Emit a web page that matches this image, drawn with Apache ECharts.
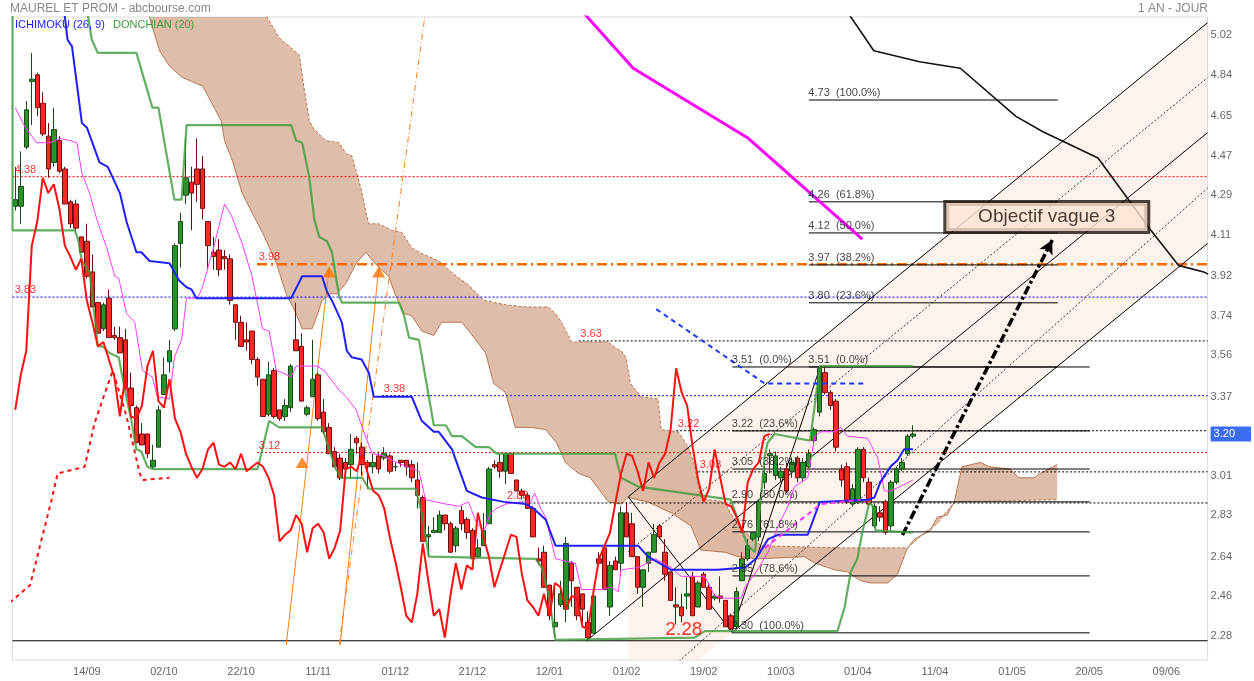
<!DOCTYPE html>
<html><head><meta charset="utf-8">
<script src="https://cdn.jsdelivr.net/npm/echarts@6/dist/echarts.min.js"></script>
<style>html,body{margin:0;padding:0;background:#fff}#c{width:1254px;height:681px}</style>
</head><body><div id="c"></div>
<script>
// ---------- DATA ----------
const N = 217; // daily slots incl. projection zone
const xTickIdx = [13,27,41,55,69,83,97,111,125,139,153,167,181,195,209];
const xTickLabels = ['14/09','02/10','22/10','11/11','01/12','21/12','12/01','01/02','19/02','10/03','01/04','11/04','01/05','20/05','09/06'];
const yTicks = [2.28,2.46,2.64,2.83,3.01,3.20,3.37,3.56,3.74,3.92,4.11,4.29,4.47,4.65,4.84,5.02];
const lastPrice = 3.20;

// [open, close, low, high]
const candles = [
[4.24,4.27,4.22,4.42],[4.24,4.33,4.16,4.49],[4.51,4.68,4.50,4.72],[4.81,4.82,4.61,4.94],[4.84,4.69,4.65,4.85],
[4.71,4.57,4.56,4.76],[4.56,4.41,4.37,4.62],[4.44,4.59,4.42,4.69],[4.54,4.40,4.39,4.56],[4.41,4.25,4.25,4.42],
[4.26,4.16,4.14,4.27],[4.25,4.14,4.13,4.27],[4.10,4.03,4.03,4.10],[4.08,3.92,3.91,4.16],[3.94,3.78,3.78,4.02],
[3.80,3.66,3.66,3.80],[3.68,3.79,3.67,3.80],[3.82,3.64,3.64,3.86],[3.65,3.64,3.63,3.69],[3.64,3.57,3.57,3.69],
[3.63,3.41,3.40,3.68],[3.41,3.33,3.32,3.48],[3.32,3.16,3.16,3.33],[3.20,3.15,3.15,3.25],[3.20,3.11,3.09,3.20],
[3.05,3.08,3.04,3.15],[3.14,3.31,3.14,3.33],[3.38,3.47,3.38,3.55],[3.53,3.58,3.48,3.63],[3.68,4.06,3.67,4.07],
[4.07,4.17,3.96,4.21],[4.29,4.37,4.25,4.55],[4.35,4.30,4.13,4.42],[4.41,4.34,4.26,4.55],[4.41,4.23,4.18,4.47],
[4.17,4.06,3.95,4.17],[4.03,4.01,3.95,4.10],[4.04,3.95,3.92,4.09],[4.01,4.00,3.95,4.04],[4.00,3.81,3.79,4.02],
[3.79,3.71,3.63,3.79],[3.71,3.60,3.60,3.74],[3.63,3.62,3.58,3.71],[3.67,3.54,3.52,3.67],[3.54,3.46,3.42,3.55],
[3.45,3.28,3.28,3.45],[3.29,3.47,3.28,3.53],[3.49,3.28,3.27,3.50],[3.31,3.27,3.26,3.31],[3.28,3.33,3.26,3.36],
[3.32,3.51,3.30,3.52],[3.63,3.58,3.58,3.80],[3.60,3.35,3.35,3.66],[3.29,3.32,3.28,3.33],[3.37,3.45,3.37,3.63],
[3.47,3.27,3.26,3.48],[3.30,3.21,3.20,3.36],[3.23,3.11,3.11,3.25],[3.12,3.05,3.05,3.14],[3.09,3.00,2.99,3.11],
[3.07,3.04,3.00,3.09],[3.06,3.13,3.00,3.20],[3.18,3.16,3.11,3.19],[3.14,3.06,3.01,3.16],[3.07,3.05,2.95,3.08],
[3.05,3.07,3.02,3.11],[3.10,3.04,3.02,3.12],[3.09,3.11,3.08,3.14],[3.10,3.03,3.02,3.11],[3.05,3.05,3.03,3.07],
[3.08,3.07,3.05,3.08],[3.08,3.05,3.01,3.08],[3.06,3.00,2.98,3.08],[2.99,2.92,2.86,3.07],[2.91,2.71,2.71,2.92],
[2.73,2.74,2.64,2.78],[2.75,2.76,2.75,2.82],[2.75,2.83,2.75,2.85],[2.83,2.79,2.76,2.83],[2.79,2.66,2.66,2.80],
[2.69,2.77,2.66,2.78],[2.85,2.79,2.76,2.87],[2.81,2.75,2.72,2.82],[2.76,2.63,2.63,2.77],[2.64,2.68,2.63,2.72],
[2.69,2.76,2.69,2.84],[2.79,3.04,2.79,3.05],[3.06,3.05,3.04,3.08],[3.07,3.03,3.00,3.11],[3.03,3.11,2.97,3.11],
[3.11,3.02,3.02,3.11],[2.99,2.94,2.94,2.99],[2.94,2.92,2.90,2.95],[2.92,2.86,2.86,2.93],[2.86,2.73,2.73,2.87],
[2.63,2.62,2.60,2.68],[2.66,2.50,2.50,2.69],[2.51,2.37,2.35,2.51],[2.32,2.34,2.27,2.50],[2.42,2.47,2.41,2.53],
[2.40,2.70,2.34,2.73],[2.61,2.53,2.41,2.62],[2.50,2.37,2.35,2.50],[2.47,2.40,2.33,2.47],[2.34,2.27,2.26,2.39],
[2.29,2.46,2.29,2.46],[2.63,2.61,2.61,2.66],[2.68,2.49,2.49,2.68],[2.41,2.60,2.37,2.62],[2.62,2.58,2.58,2.64],
[2.61,2.84,2.55,2.87],[2.84,2.73,2.73,2.89],[2.79,2.64,2.64,2.84],[2.64,2.50,2.47,2.64],[2.50,2.58,2.41,2.58],
[2.61,2.66,2.57,2.66],[2.66,2.74,2.66,2.79],[2.78,2.73,2.72,2.79],[2.66,2.56,2.53,2.72],[2.57,2.44,2.44,2.57],
[2.42,2.41,2.33,2.50],[2.41,2.37,2.34,2.47],[2.46,2.47,2.40,2.55],[2.55,2.37,2.37,2.57],[2.41,2.52,2.41,2.53],
[2.56,2.50,2.50,2.57],[2.50,2.40,2.40,2.52],[2.45,2.46,2.44,2.47],[2.46,2.45,2.43,2.55],[2.44,2.32,2.32,2.44],
[2.37,2.31,2.30,2.38],[2.32,2.48,2.31,2.50],[2.53,2.63,2.53,2.66],[2.63,2.69,2.62,2.72],[2.72,2.75,2.71,2.75],
[2.73,2.89,2.71,2.90],[2.98,3.02,2.95,3.05],[3.10,3.11,3.02,3.13],[3.01,3.10,2.99,3.12],[3.00,3.03,2.98,3.05],
[3.04,2.94,2.93,3.07],[3.03,3.07,3.00,3.09],[3.09,3.00,2.98,3.10],[3.00,3.07,2.98,3.09],[3.05,3.11,3.04,3.13],
[3.17,3.22,3.15,3.23],[3.30,3.50,3.28,3.51],[3.48,3.39,3.38,3.51],[3.39,3.33,3.31,3.40],[3.35,3.14,3.12,3.36],
[3.04,2.99,2.96,3.06],[3.05,2.89,2.88,3.07],[2.88,2.95,2.87,2.97],[2.89,3.13,2.88,3.14],[3.13,3.00,2.98,3.14],
[2.98,2.88,2.87,3.00],[2.78,2.87,2.77,2.88],[2.84,2.82,2.80,2.87],[2.89,2.75,2.74,2.90],[2.78,2.98,2.76,2.99],
[2.98,3.04,2.97,3.05],[3.04,3.07,3.03,3.09],[3.11,3.19,3.10,3.20],[3.19,3.20,3.18,3.24]
];
const chikouLag = 26;

// Ichimoku lines, [day index, price]
const tenkan = [[0,4.69],[1.8,4.60],[3.9,4.53],[6.3,4.53],[8.1,4.55],[9.9,4.54],[11.2,4.53],[12.1,4.39],[13.5,4.30],[14.8,4.18],[16.6,4.05],[18.1,3.92],[18.8,3.91],[20.2,3.75],[21.7,3.71],[23.1,3.49],[24.9,3.46],[25.8,3.37],[28.0,3.36],[28.9,3.55],[30.2,3.63],[31.1,3.82],[33.1,3.82],[34.0,3.87],[35.3,3.99],[35.8,4.03],[38.0,4.25],[39.2,4.20],[41.2,4.07],[43.0,3.92],[44.9,3.68],[46.1,3.67],[47.4,3.49],[48.5,3.48],[50.1,3.46],[51.0,3.51],[54.8,3.51],[56.1,3.49],[58.8,3.40],[60.1,3.37],[61.9,3.31],[63.0,3.23],[64.8,3.11],[66.9,3.10],[68.4,3.08],[71.1,3.05],[73.3,3.03],[74.5,2.90],[76.4,2.89],[78.2,2.88],[80.5,2.87],[82.3,2.89],[83.8,2.79],[85.2,2.76],[86.3,2.84],[87.4,2.86],[89.0,2.88],[91.9,2.89],[93.6,2.89],[94.3,2.93],[95.4,2.86],[96.3,2.82],[98.1,2.63],[101.7,2.61],[102.8,2.49],[106.4,2.49],[108.2,2.50],[109.5,2.48],[110.0,2.58],[113.1,2.59],[116.2,2.63],[119.1,2.59],[120.9,2.55],[125.2,2.55],[127.0,2.46],[128.9,2.45],[131.8,2.45],[132.5,2.50],[134.5,2.57],[136.7,2.66],[138.5,2.78],[140.3,2.87],[141.5,2.96],[143.9,3.00],[145.2,3.19],[146.3,3.21],[148.8,3.21],[149.9,3.23],[151.1,3.19],[154.8,3.18],[156.6,3.09],[157.8,2.94],[158.9,2.94],[160.7,2.96],[163.0,2.99]];
const kijun = [[8.1,5.3],[9.5,5.00],[10.3,4.97],[12.1,4.62],[13.0,4.60],[15.3,4.44],[16.8,4.42],[19.0,4.30],[20.2,4.17],[22.0,4.03],[22.9,4.03],[24.4,3.99],[28.0,3.98],[29.8,3.90],[31.1,3.87],[32.0,3.86],[32.9,3.82],[50.1,3.82],[52.1,3.92],[55.7,3.92],[56.6,3.85],[57.5,3.81],[59.3,3.71],[60.2,3.58],[61.1,3.55],[62.9,3.54],[64.2,3.48],[65.1,3.37],[72.0,3.37],[73.8,3.26],[76.0,3.21],[76.9,3.21],[79.3,3.13],[82.0,2.94],[84.7,2.91],[88.7,2.89],[92.7,2.88],[94.1,2.86],[96.3,2.81],[98.1,2.69],[113.1,2.69],[114.9,2.64],[119.1,2.58],[127.6,2.58],[132.5,2.59],[134.5,2.63],[136.7,2.72],[138.5,2.74],[143.9,2.74],[146.1,2.89],[154.8,2.90],[156.0,2.91],[157.1,2.98],[158.9,3.05],[160.2,3.08],[161.4,3.13],[163.0,3.13]];
// cloud edges (already shifted 26 days ahead)
const kumoEdgeA = [[23.5,5.25],[24.4,5.10],[26.2,4.95],[28.0,4.88],[30.2,4.83],[32.9,4.80],[34.0,4.79],[37.4,4.63],[38.0,4.54],[39.4,4.45],[41.2,4.30],[43.0,4.21],[44.9,4.12],[47.4,3.98],[49.2,3.84],[51.0,3.75],[52.1,3.68],[53.9,3.68],[54.8,3.74],[55.7,3.81],[57.3,3.84],[58.4,3.84],[60.1,3.89],[61.9,3.98],[63.7,4.03],[64.6,4.00],[66.0,3.96],[67.8,3.92],[69.1,3.83],[70.6,3.75],[72.0,3.74],[73.8,3.67],[76.0,3.65],[77.4,3.71],[81.1,3.71],[82.7,3.66],[85.4,3.57],[86.9,3.43],[89.0,3.39],[90.8,3.23],[93.7,3.23],[96.3,3.22],[98.3,3.16],[99.9,3.07],[102.3,3.02],[104.4,3.00],[105.9,2.95],[107.7,2.89],[110.0,2.88],[111.3,2.91],[113.1,2.90],[114.9,2.89],[119.1,2.84],[122.7,2.78],[124.5,2.67],[128.9,2.66],[131.2,2.64],[134.8,2.63],[143.3,2.64],[145.2,2.61],[148.8,2.58],[151.1,2.57],[153.5,2.53],[155.3,2.52],[158.4,2.52],[160.2,2.56],[162.0,2.68],[163.3,2.72],[166.2,2.76],[167.4,2.82],[169.2,2.83],[170.5,2.89],[171.9,3.05],[175.2,3.07],[177.0,3.05],[180.6,3.04],[182.2,3.00],[185.0,3.00],[186.1,3.02],[189.2,3.06]];
const kumoEdgeB = [[23.5,5.40],[44.0,5.25],[45.8,5.10],[47.9,5.01],[51.6,4.93],[52.5,4.77],[53.4,4.63],[54.3,4.59],[56.4,4.54],[58.8,4.53],[60.1,4.48],[61.1,4.47],[62.9,4.31],[63.7,4.21],[64.2,4.16],[66.0,4.16],[68.4,4.13],[70.2,4.12],[72.0,4.05],[73.3,4.03],[76.9,3.99],[79.6,3.93],[82.3,3.88],[85.1,3.81],[89.0,3.79],[92.7,3.78],[96.8,3.78],[98.1,3.75],[99.2,3.71],[101.0,3.62],[107.7,3.62],[109.1,3.59],[110.0,3.58],[110.9,3.55],[111.7,3.43],[113.7,3.37],[116.7,3.36],[117.3,3.22],[120.4,3.21],[122.2,3.14],[123.4,3.05],[124.5,2.91],[125.8,2.90],[128.9,2.89],[129.8,2.84],[131.2,2.79],[132.1,2.76],[133.6,2.73],[135.4,2.69],[149.3,2.68],[162.0,2.68],[164.7,2.74],[167.4,2.79],[169.2,2.85],[170.7,2.89],[189.2,2.90]];
// Donchian (20)
const donchianHigh = [[12.3,5.25],[13.9,5.00],[15.0,4.94],[22.0,4.94],[24.9,4.69],[26.0,4.69],[28.9,4.27],[30.2,4.27],[31.1,4.61],[50.1,4.61],[51.0,4.54],[52.1,4.53],[53.4,4.37],[54.3,4.18],[55.2,4.10],[56.6,4.08],[57.5,4.03],[58.8,3.83],[59.3,3.80],[69.7,3.80],[70.6,3.74],[71.5,3.64],[73.3,3.63],[76.0,3.24],[78.2,3.24],[79.3,3.19],[81.1,3.19],[83.6,3.14],[86.0,3.14],[87.4,3.11],[108.9,3.11],[110.0,3.00],[113.1,2.96],[129.9,2.90],[131.2,2.81],[133.0,2.69],[134.3,2.66],[135.4,2.91],[136.1,3.10],[136.6,3.16],[137.9,3.20],[144.3,3.17],[144.8,3.26],[146.1,3.51],[163.0,3.51]];
const donchianLow = [[-0.5,5.3],[-0.5,4.13],[10.8,4.13],[11.4,4.09],[12.1,3.99],[13.5,3.94],[15.0,3.60],[15.9,3.60],[17.1,3.57],[18.8,3.55],[19.9,3.40],[21.1,3.26],[22.0,3.13],[22.9,3.12],[24.0,3.05],[24.9,3.04],[44.0,3.04],[46.1,3.26],[47.9,3.23],[55.7,3.23],[57.0,3.13],[58.2,3.04],[59.2,3.00],[63.0,3.00],[64.2,2.95],[72.7,2.95],[73.8,2.84],[75.1,2.64],[94.5,2.63],[95.6,2.59],[96.8,2.47],[98.1,2.26],[123.4,2.27],[125.2,2.30],[149.3,2.30],[150.6,2.41],[151.7,2.57],[152.9,2.63],[153.8,2.75],[155.1,2.89],[155.7,2.87],[156.2,2.76],[163.0,2.75]];
// other drawn indicators
const redDotted = [[-1.0,2.43],[2.7,2.51],[6.6,2.90],[7.7,3.02],[12.6,3.05],[14.4,3.25],[17.7,3.49],[19.5,3.34],[20.2,3.28],[22.6,3.02],[23.1,2.99],[28.0,3.00]];
const blueDashed = [[116.4,3.77],[136.1,3.43],[154.2,3.43]];
const magentaDashed = [[136.1,2.68],[146.3,2.88],[153.5,2.90]];
const magentaLine = [[102.6,5.14],[112.2,4.87],[133.1,4.55],[153.8,4.09]];
const blackLine = [[150.2,5.16],[155.9,4.95],[164.2,4.90],[171.6,4.87],[181.7,4.65],[186.6,4.58],[196.6,4.46],[206.2,4.13],[211.2,3.97],[215.8,3.94],[216.6,3.93]];

// horizontal reference levels
const refLevels = [4.375, 3.825, 3.975, 3.625, 3.375, 3.115, 2.885, 3.215, 3.027, 2.256];
const refLabels = ['4.38','3.83','3.98','3.63','3.38','3.12','2.88','3.22','3.03',''];
const refStart  = [-0.5, -0.5, 43.9, 102.3, 66.6, 43.9, 89.0, 120.0, 124.0, -0.5];
// Fibonacci retracements
const fibLowLevels = [3.506, 3.214, 3.04, 2.89, 2.753, 2.552, 2.292];
const fibLowLabels = ['3.51  (0.0%)','3.22  (23.6%)','3.05  (38.2%)','2.90  (50.0%)','2.76  (61.8%)','2.55  (78.6%)','2.30  (100.0%)'];
const fibLowRange = [130.2, 195.1];
const fibHighLevels = [4.725, 4.26, 4.118, 3.972, 3.799, 3.506];
const fibHighLabels = ['4.73  (100.0%)','4.26  (61.8%)','4.12  (50.0%)','3.97  (38.2%)','3.80  (23.6%)','3.51  (0.0%)'];
const fibHighRange = [144.1, 189.3];
// channel lines [start, end]
const channelSolid = [[[111.3,2.913],[216.5,5.078]], [[103.7,2.255],[216.5,4.576]], [[130.1,2.292],[216.5,4.070]]];
const channelDotted = [[[111.3,2.662],[216.5,4.827]], [[120.0,2.150],[216.5,4.323]]];
const channelFill = [[111.3,2.913],[216.5,5.078],[216.5,4.070],[111.3,1.905]];
const trendLines = [[[111.3,2.913],[130.1,2.295]], [[130.1,2.295],[146.2,3.51]]];
const orangeSolid = [[[49.2,2.237],[57.0,3.958]], [[59.0,2.237],[66.0,3.958]]];
const orangeDashDot = [[[58.8,2.237],[74.5,5.13]]];
const orangeMarks = [[52.1,3.07],[57.0,3.94],[66.0,3.94]];
const arrowWave = [[161.1,2.739],[188.3,4.086]];
const targetBox = {pos:[187.3,4.191], text:'Objectif vague 3'};
const lowLabel = {pos:[121.4,2.305], text:'2.28'};

// ---------- CHART ----------
const FONT = '"Liberation Sans", Arial, Helvetica, sans-serif';
const chart = echarts.init(document.getElementById('c'));
const cats = Array.from({length:N}, (_, i) => String(i));
const tickMap = {}; xTickIdx.forEach((k, j) => tickMap[k] = xTickLabels[j]);
const chikou = candles.slice(chikouLag).map((c, i) => [i, c[1]]);

function L(pts, color, width, type, z, extra) {
  return Object.assign({type:'line', xAxisIndex:1, yAxisIndex:0, data:pts, showSymbol:false, symbol:'none',
    silent:true, z:z, animation:false, lineStyle:{color:color, width:width, type:type||'solid'}}, extra||{});
}
function poly(pts, style, z) {
  return {type:'custom', xAxisIndex:1, yAxisIndex:0, z:z, silent:true, clip:true, data:[[0,3]],
    renderItem:(p, api) => ({type:'polygon', shape:{points:pts.map(q => api.coord(q))}, style:style})};
}
const series = [];
series.push(poly(channelFill, {fill:'rgba(250,218,196,0.33)'}, 1));
series.push(poly(kumoEdgeA.concat(kumoEdgeB.slice().reverse()), {fill:'rgba(190,125,88,0.5)'}, 2));
series.push(L(kumoEdgeA, '#b8764f', 1, 'solid', 3));
series.push(L(kumoEdgeB, '#b8764f', 1, [3,2], 3));
// reference lines
const refStyles = [['#ff0000',1,[2,2]],['#0000ff',1,[2,2]],['#ff6a00',2.5,[10,4,2,4]],['#000',1,[2,2]],['#0000ff',1,[2,2]],['#ff0000',1,[2,2]],['#000',1,[2,2]],['#000',1,[2,2]],['#000',1,[2,2]],['#000',1.2,'solid']];
refLevels.forEach((v, k) => series.push(L([[refStart[k], v],[216.5, v]], refStyles[k][0], refStyles[k][1], refStyles[k][2], 4)));
fibLowLevels.forEach(v => series.push(L([[fibLowRange[0], v],[fibLowRange[1], v]], '#000', 1, 'solid', 4)));
fibHighLevels.forEach(v => series.push(L([[fibHighRange[0], v],[fibHighRange[1], v]], '#000', 1, 'solid', 4)));
channelSolid.forEach(s => series.push(L(s, '#000', 1, 'solid', 5)));
channelDotted.forEach(s => series.push(L(s, '#333', 1, [2,2], 5)));
trendLines.forEach(s => series.push(L(s, '#000', 1, 'solid', 5)));
orangeSolid.forEach(s => series.push(L(s, '#ff7f1a', 1, 'solid', 5)));
orangeDashDot.forEach(s => series.push(L(s, '#ff7f1a', 1, [6,3,1,3], 5)));
// candles
series.push({type:'candlestick', xAxisIndex:0, yAxisIndex:0, data:candles, z:6, barWidth:5, silent:true,
  itemStyle:{color:'#2a922a', color0:'#ff2626', borderColor:'#1a4a1a', borderColor0:'#6e0f0f', borderWidth:1}});
// indicators
series.push(L(donchianHigh, 'rgba(60,155,60,0.8)', 2.2, 'solid', 7));
series.push(L(donchianLow, 'rgba(60,155,60,0.8)', 2.2, 'solid', 7));
series.push(L(tenkan, '#ff3cff', 1, 'solid', 8));
series.push(L(kijun, '#2020ff', 2, 'solid', 8));
series.push(L(chikou, '#ff1010', 2, 'solid', 8));
series.push(L(redDotted, '#ff1010', 2, [4,4], 8));
series.push(L(blueDashed, '#1a3cff', 2, [5,4], 8));
series.push(L(magentaDashed, '#ff33ff', 2, [5,4], 8));
series.push(L(magentaLine, '#ff00ff', 3, 'solid', 8));
series.push(L(blackLine, '#111', 1.6, 'solid', 8));
series.push(L([], '#000', 1, 'solid', 9, {markLine:{silent:true, symbol:['none','arrow'], symbolSize:[11,14], animation:false,
  label:{show:false}, lineStyle:{color:'#000', width:3.5, type:[9,3,3,3]},
  data:[[{coord:arrowWave[0]},{coord:arrowWave[1]}]]}}));
// texts & markers
const txt = [];
refLevels.forEach((v, k) => { if (refLabels[k]) txt.push({value:[refStart[k] < 0 ? 0 : refStart[k] + 0.4, v],
  label:{formatter:refLabels[k], color:'#ff0000', fontSize:11}}); });
fibLowLevels.forEach((v, k) => txt.push({value:[fibLowRange[0], v], label:{formatter:fibLowLabels[k], color:'#111', fontSize:11}}));
fibHighLevels.forEach((v, k) => txt.push({value:[fibHighRange[0], v], label:{formatter:fibHighLabels[k], color:'#111', fontSize:11}}));
series.push({type:'scatter', xAxisIndex:1, yAxisIndex:0, z:10, silent:true, symbolSize:1, itemStyle:{color:'rgba(0,0,0,0)'},
  label:{show:true, position:[0,0], align:'left', verticalAlign:'bottom', offset:[0,-1], fontFamily:FONT}, data:txt});
series.push({type:'scatter', xAxisIndex:1, yAxisIndex:0, z:11, silent:true, symbolSize:1, itemStyle:{color:'rgba(0,0,0,0)'},
  data:[{value:lowLabel.pos, label:{show:true, position:'inside', formatter:lowLabel.text, color:'#ff0000', fontSize:19, fontFamily:FONT}},
        {value:targetBox.pos, label:{show:true, position:'inside', formatter:targetBox.text, color:'#111', fontSize:19, fontFamily:FONT,
          backgroundColor:'#fde2cf', borderColor:'#1e120a', borderWidth:3, width:201, height:28, lineHeight:28, align:'center', verticalAlign:'middle'}}]});
series.push({type:'scatter', xAxisIndex:1, yAxisIndex:0, z:11, silent:true, symbol:'triangle', symbolSize:[13,11],
  itemStyle:{color:'#ff7300'}, data:orangeMarks});

chart.setOption({
  animation:false,
  backgroundColor:'#fff',
  textStyle:{fontFamily:FONT},
  grid:{left:12.5, right:43, top:17, bottom:21, show:true, borderColor:'#dcdcdc', borderWidth:1, backgroundColor:'#fff'},
  xAxis:[
    {type:'category', data:cats, boundaryGap:true, axisLine:{show:false}, axisTick:{show:false}, splitLine:{show:false},
      axisLabel:{interval:(i) => tickMap[i] !== undefined, formatter:(v, i) => tickMap[i] || '', color:'#666', fontSize:11, margin:6}},
    {type:'value', min:-0.5, max:N-0.5, show:false}
  ],
  yAxis:[{type:'value', position:'right', min:2.168, max:5.104, splitLine:{show:false}, axisLine:{show:false}, axisTick:{show:false},
    axisLabel:{customValues:yTicks, color:'#666', fontSize:11, margin:3,
      formatter:(v) => Math.abs(v - lastPrice) < 1e-6 ? '{hl|' + v.toFixed(2) + '}' : v.toFixed(2),
      rich:{hl:{backgroundColor:'#3a6cf4', color:'#fff', fontSize:11, padding:[2,16,2,3]}}}}],
  graphic:[
    {type:'text', left:10, top:3, style:{text:'MAUREL ET PROM - abcbourse.com', fill:'#888', font:'12px ' + FONT}},
    {type:'text', right:46, top:3, style:{text:'1 AN - JOUR', fill:'#888', font:'12px ' + FONT}},
    {type:'text', left:15, top:19, style:{text:'ICHIMOKU (26, 9)', fill:'#1a1aff', font:'11px ' + FONT}, z:100},
    {type:'text', left:113, top:19, style:{text:'DONCHIAN (20)', fill:'#3c9c3c', font:'11px ' + FONT}, z:100}
  ],
  series:series
});
</script></body></html>
